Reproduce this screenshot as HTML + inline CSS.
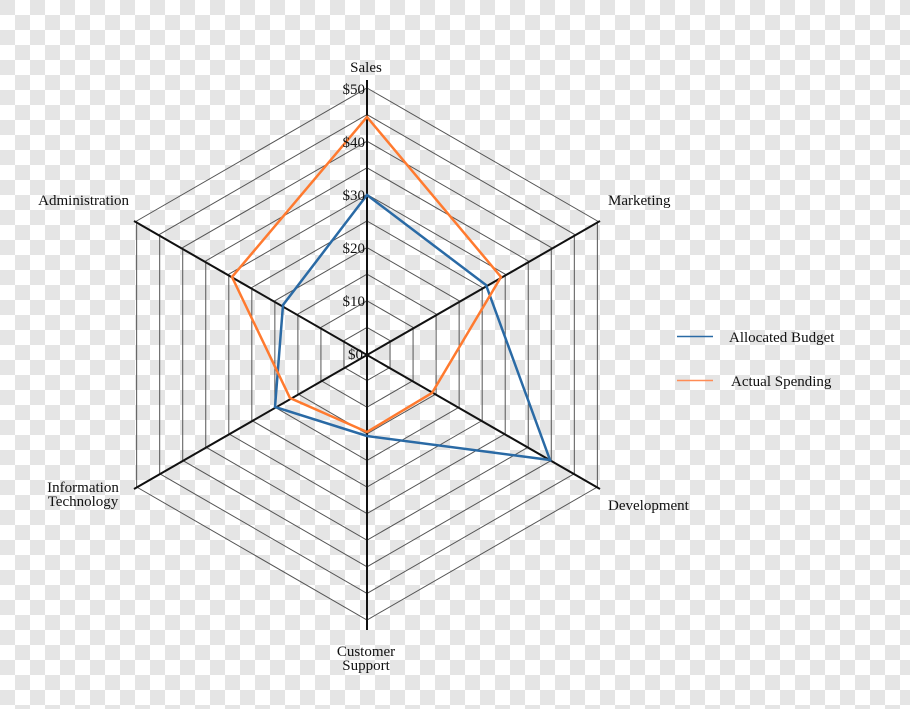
<!DOCTYPE html>
<html><head><style>
html,body{margin:0;padding:0;}
body{width:910px;height:709px;overflow:hidden;
background-color:#fff;
background-image:linear-gradient(45deg,#e5e5e5 25%,transparent 25%,transparent 75%,#e5e5e5 75%),linear-gradient(45deg,#e5e5e5 25%,transparent 25%,transparent 75%,#e5e5e5 75%);
background-size:30px 30px;background-position:15px 0,0 15px;}
svg{position:absolute;left:0;top:0;}
text{font-family:"Liberation Serif",serif;font-size:15px;fill:#111;}
</style></head><body>
<svg width="910" height="709" viewBox="0 0 910 709">
<g fill="none" stroke="#555" stroke-width="1">
<polygon points="367,327.4 390.04,340.7 390.04,367.3 367,380.6 343.96,367.3 343.96,340.7"/>
<polygon points="367,300.8 413.07,327.4 413.07,380.6 367,407.2 320.93,380.6 320.93,327.4"/>
<polygon points="367,274.2 436.11,314.1 436.11,393.9 367,433.8 297.89,393.9 297.89,314.1"/>
<polygon points="367,247.6 459.14,300.8 459.14,407.2 367,460.4 274.86,407.2 274.86,300.8"/>
<polygon points="367,221 482.18,287.5 482.18,420.5 367,487 251.82,420.5 251.82,287.5"/>
<polygon points="367,194.4 505.21,274.2 505.21,433.8 367,513.6 228.79,433.8 228.79,274.2"/>
<polygon points="367,167.8 528.25,260.9 528.25,447.1 367,540.2 205.75,447.1 205.75,260.9"/>
<polygon points="367,141.2 551.28,247.6 551.28,460.4 367,566.8 182.72,460.4 182.72,247.6"/>
<polygon points="367,114.6 574.32,234.3 574.32,473.7 367,593.4 159.68,473.7 159.68,234.3"/>
<polygon points="367,88 597.36,221 597.36,487 367,620 136.64,487 136.64,221"/>
</g>
<g stroke="#111" stroke-width="2">
<line x1="367" y1="80" x2="367" y2="630"/>
<line x1="134" y1="221" x2="600" y2="489"/>
<line x1="134" y1="489" x2="600" y2="221"/>
</g>
<polygon points="367,195 486,285 550,460 367,436 275,407 283,305" fill="none" stroke="#2a6aa5" stroke-width="2.5"/>
<polygon points="367,117 501,277 432,393 367,432 290,398 232,277" fill="none" stroke="#ff7a2f" stroke-width="2.5"/>
<g text-anchor="end">
<text x="365" y="94">$50</text>
<text x="365" y="147">$40</text>
<text x="365" y="200">$30</text>
<text x="365" y="253">$20</text>
<text x="365" y="306">$10</text>
<text x="363" y="359">$0</text>
</g>
<text x="366" y="72" text-anchor="middle">Sales</text>
<text x="608" y="205">Marketing</text>
<text x="608" y="510">Development</text>
<text x="366" y="656" text-anchor="middle">Customer</text>
<text x="366" y="670" text-anchor="middle">Support</text>
<text x="83" y="492" text-anchor="middle">Information</text>
<text x="83" y="506" text-anchor="middle">Technology</text>
<text x="129" y="205" text-anchor="end">Administration</text>
<line x1="677" y1="336.5" x2="713" y2="336.5" stroke="#2a6aa5" stroke-width="1.5"/>
<line x1="677" y1="380.5" x2="713" y2="380.5" stroke="#ff8c55" stroke-width="1.5"/>
<text x="729" y="342">Allocated Budget</text>
<text x="731" y="386">Actual Spending</text>
</svg>
</body></html>
